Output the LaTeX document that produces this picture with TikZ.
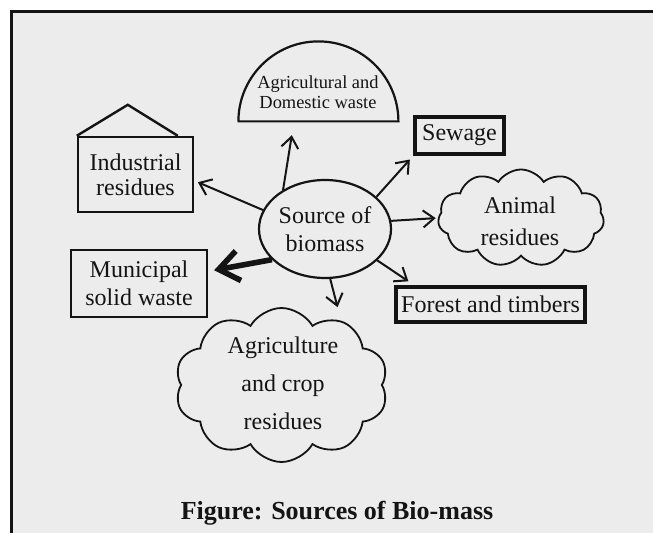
\documentclass[tikz,border=0pt]{standalone}
\usepackage{fontspec}
\setmainfont{Liberation Serif}
\usepackage{tikz}
\usetikzlibrary{positioning, shapes.geometric, shapes.symbols, arrows.meta, calc}

\definecolor{panelgray}{gray}{0.925}
\definecolor{inkblack}{gray}{0.08}

\begin{document}
\begin{tikzpicture}[
    x=0.5pt, y=-0.5pt,
    font=\fontsize{12}{14}\selectfont,
    color=inkblack,
    arr/.style={-{Straight Barb[length=5.5pt, width=8.5pt]}, line width=1pt},
    bigarr/.style={-{Straight Barb[length=10pt, width=15pt]}, line width=2.8pt},
    srcbox/.style={draw, line width=1.2pt, inner sep=0pt, align=center},
    boldbox/.style={draw, line width=1.8pt, inner sep=0pt, align=center},
    puff/.style={draw, cloud, cloud ignores aspect, line width=0.9pt, inner sep=0pt}
]

% Page and panel
\useasboundingbox (0,0) rectangle (653,533);
\clip (0,0) rectangle (653,533);
\draw[fill=panelgray, line width=1.5pt] (11,12) rectangle (700,560);

% Centre
\node[draw, ellipse, line width=1.1pt, minimum width=66pt, minimum height=49pt,
    inner sep=0pt, align=center] (src) at (325,229) {Source of\\biomass};

% Dome
\node[minimum width=80pt, minimum height=39.5pt, inner sep=0pt] (dome) at (318,81.5) {};
\draw[line width=1.1pt] (dome.south west) -- (dome.south east)
    arc[start angle=0, end angle=180, radius=40pt];
\node[font=\fontsize{9.2}{10}\selectfont, align=center] (domtxt) at (318,92)
    {Agricultural and\\Domestic waste};

% House
\node[srcbox, minimum width=57.5pt, minimum height=37.5pt,
    font=\fontsize{12}{12.5}\selectfont] (ind) at (135.5,174.5) {Industrial\\residues};
\draw[line width=1.2pt] (ind.north west) -- ++(51,-31) -- ++(50,31);

% Boxes
\node[boldbox, minimum width=44.5pt, minimum height=18.5pt] (sewage) at (459.5,135.5) {Sewage};
\node[srcbox, minimum width=68pt, minimum height=33.5pt] (muni) at (139,283.5)
    {Municipal\\solid waste};
\node[boldbox, minimum width=94.5pt, minimum height=17.5pt] (forest) at (490.5,304.5)
    {Forest and timbers};

% Clouds
\node[puff, cloud puffs=11, cloud puff arc=115, minimum width=83pt, minimum height=48.5pt]
    (animal) at (521,218) {};
\node[font=\fontsize{12}{16}\selectfont, align=center] (animaltxt) at (520,221)
    {Animal\\residues};

\node[puff, cloud puffs=10, cloud puff arc=120, minimum width=106.5pt, minimum height=77pt]
    (crop) at (281.5,385) {};
\node[font=\fontsize{12}{19}\selectfont, align=center] (croptxt) at (283,383.5)
    {Agriculture\\and crop\\residues};

% Arrows
\draw[arr, shorten >=7pt] (src.137) -- ($(dome.south)+(-24,0)$);
\draw[arr, shorten >=2pt] (src.163) -- (ind.-6);
\draw[arr, shorten >=2.5pt] (src.32) -- (sewage.south west);
\draw[arr, shorten >=1pt] (src.7) -- (animal.west);
\draw[bigarr, shorten >=3pt] (src.210) -- (muni.10);
\draw[arr, shorten >=3.5pt] (src.-31) -- ($(forest.north west)+(20,0)$);
\draw[arr] (src.-84) -- ($(crop.north)+(56,0)$);

% Caption
\node[font=\fontsize{13}{15}\selectfont\bfseries] (caption) at (337,513)
    {Figure: Sources of Bio-mass};

\end{tikzpicture}
\end{document}
